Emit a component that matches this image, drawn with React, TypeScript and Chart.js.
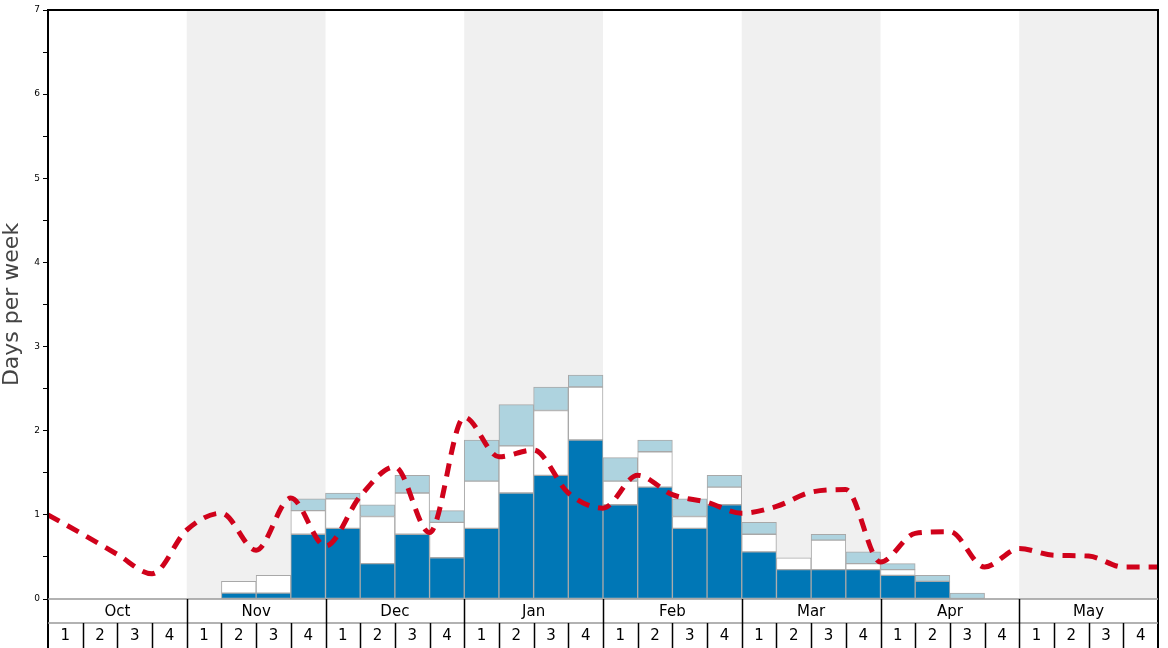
import React, { useEffect, useRef } from "react";
import { Chart, registerables } from "chart.js";

Chart.register(...registerables);

const months = ["Oct", "Nov", "Dec", "Jan", "Feb", "Mar", "Apr", "May"];
const weekLabels = ["1", "2", "3", "4"];
const yTicks = [0, 1, 2, 3, 4, 5, 6, 7];

// stacked segment sizes per week (32 weeks)
const darkBlue = [0, 0, 0, 0, 0, 0.07, 0.07, 0.77, 0.84, 0.42, 0.77, 0.49, 0.84, 1.26, 1.47, 1.89, 1.12, 1.33, 0.84, 1.12, 0.56, 0.35, 0.35, 0.35, 0.28, 0.21, 0, 0, 0, 0, 0, 0];
const whiteSeg = [0, 0, 0, 0, 0, 0.14, 0.21, 0.28, 0.35, 0.56, 0.49, 0.42, 0.56, 0.56, 0.77, 0.63, 0.28, 0.42, 0.14, 0.21, 0.21, 0.14, 0.35, 0.07, 0.07, 0, 0, 0, 0, 0, 0, 0];
const lightSeg = [0, 0, 0, 0, 0, 0, 0, 0.14, 0.07, 0.14, 0.21, 0.14, 0.49, 0.49, 0.28, 0.14, 0.28, 0.14, 0.21, 0.14, 0.14, 0, 0.07, 0.14, 0.07, 0.07, 0.07, 0, 0, 0, 0, 0];
// average line, values at week boundaries (33 points)
const avgLine = [1.0, 0.77, 0.53, 0.3, 0.82, 1.02, 0.58, 1.2, 0.63, 1.22, 1.57, 0.79, 2.16, 1.69, 1.77, 1.26, 1.08, 1.47, 1.24, 1.15, 1.02, 1.1, 1.27, 1.3, 0.44, 0.78, 0.8, 0.38, 0.6, 0.52, 0.51, 0.38, 0.38];

const weekCats = months.flatMap((m) => weekLabels.map((w) => `${m} ${w}`));

const FONT = "'DejaVu Sans', sans-serif";

const toBars = (arr: number[]) => arr.map((v) => (v > 0 ? v : null));

const decorPlugin = {
  id: "decor",
  beforeDatasetsDraw(chart: any) {
    const { ctx, chartArea, scales } = chart;
    const x = scales.xl;
    ctx.save();
    ctx.fillStyle = "#f0f0f0";
    months.forEach((_, m) => {
      if (m % 2 === 1) {
        const a = x.getPixelForValue(m * 4);
        const b = x.getPixelForValue(m * 4 + 4);
        ctx.fillRect(a, chartArea.top, b - a, chartArea.bottom - chartArea.top);
      }
    });
    ctx.restore();
  },
  afterDraw(chart: any) {
    const { ctx, chartArea, scales } = chart;
    const x = scales.xl;
    const top = chartArea.top;
    const bottom = chartArea.bottom;
    const left = chartArea.left;
    const right = chartArea.right;
    const row1 = bottom + 24;
    const row2 = row1 + 25;
    ctx.save();
    // plot frame
    ctx.strokeStyle = "#000";
    ctx.lineWidth = 2;
    ctx.beginPath();
    ctx.moveTo(left, row2 + 2);
    ctx.lineTo(left, top);
    ctx.lineTo(right, top);
    ctx.lineTo(right, row2 + 2);
    ctx.stroke();
    // horizontal lines
    ctx.strokeStyle = "#999";
    ctx.lineWidth = 1.5;
    ctx.beginPath();
    ctx.moveTo(left, bottom);
    ctx.lineTo(right, bottom);
    ctx.moveTo(left, row1);
    ctx.lineTo(right, row1);
    ctx.stroke();
    // separators
    ctx.strokeStyle = "#000";
    ctx.lineWidth = 1.5;
    ctx.beginPath();
    for (let m = 1; m < months.length; m++) {
      const px = Math.round(x.getPixelForValue(m * 4)) + 0.5;
      ctx.moveTo(px, bottom);
      ctx.lineTo(px, row1);
    }
    for (let w = 1; w < months.length * 4; w++) {
      const px = Math.round(x.getPixelForValue(w)) + 0.5;
      ctx.moveTo(px, row1);
      ctx.lineTo(px, row2);
    }
    ctx.stroke();
    // labels
    ctx.fillStyle = "#000";
    ctx.font = `15px ${FONT}`;
    ctx.textAlign = "center";
    ctx.textBaseline = "middle";
    months.forEach((name, m) => {
      const c = x.getPixelForValue(m * 4 + 2);
      ctx.fillText(name, c, (bottom + row1) / 2 + 1);
      weekLabels.forEach((wl, w) => {
        const cw = x.getPixelForValue(m * 4 + w + 0.5);
        ctx.fillText(wl, cw, (row1 + row2) / 2 + 1);
      });
    });
    // y title
    ctx.save();
    ctx.translate(12, (top + bottom) / 2);
    ctx.rotate(-Math.PI / 2);
    ctx.fillStyle = "#444";
    ctx.font = `22px ${FONT}`;
    ctx.fillText("Days per week", 0, 0);
    ctx.restore();
    ctx.restore();
  },
};

export default function App() {
  const ref = useRef<HTMLCanvasElement | null>(null);
  useEffect(() => {
    if (!ref.current) return;
    const barCommon = {
      type: "bar" as const,
      borderColor: "#a8a8a8",
      borderWidth: 1,
      borderSkipped: false,
      barPercentage: 1,
      categoryPercentage: 1,
      grouped: false,
      order: 1,
      xAxisID: "x",
      yAxisID: "y",
    };
    const chart = new Chart(ref.current, {
      type: "bar",
      data: {
        labels: weekCats,
        datasets: [
          { ...barCommon, label: "dark", data: toBars(darkBlue), backgroundColor: "#0077b6" },
          { ...barCommon, label: "white", data: toBars(whiteSeg), backgroundColor: "#ffffff" },
          { ...barCommon, label: "light", data: toBars(lightSeg), backgroundColor: "#aed3df" },
          {
            type: "line",
            label: "avg",
            data: avgLine.map((v, k) => ({ x: k, y: v })),
            borderColor: "#d0021b",
            borderWidth: 5,
            borderDash: [13, 9],
            pointRadius: 0,
            cubicInterpolationMode: "monotone",
            fill: false,
            order: 0,
            xAxisID: "xl",
            yAxisID: "yl",
          } as any,
        ],
      },
      plugins: [decorPlugin],
      options: {
        animation: false,
        responsive: true,
        maintainAspectRatio: false,
        layout: { padding: { top: 10, right: 10, bottom: 49, left: 0 } },
        plugins: { legend: { display: false }, tooltip: { enabled: false } },
        scales: {
          x: { type: "category", stacked: true, display: false, offset: true },
          xl: { type: "linear", min: 0, max: 32, display: false, offset: false },
          yl: { type: "linear", min: 0, max: 7, display: false },
          y: {
            type: "linear",
            min: 0,
            max: 7,
            stacked: true,
            afterFit: (s: any) => { s.width = 48; },
            border: { display: false },
            grid: { drawOnChartArea: false, drawTicks: true, tickLength: 5, color: "#000", lineWidth: 1 },
            ticks: {
              stepSize: 0.5,
              padding: 3,
              color: "#000",
              font: { size: 9, family: FONT },
              callback: (v: any) => (yTicks.includes(Number(v)) ? String(v) : ""),
            },
          },
        },
      },
    } as any);
    return () => chart.destroy();
  }, []);
  return (
    <div style={{ position: "fixed", left: 0, top: 0, width: 1168, height: 648, background: "#fff" }}>
      <canvas ref={ref} />
    </div>
  );
}
